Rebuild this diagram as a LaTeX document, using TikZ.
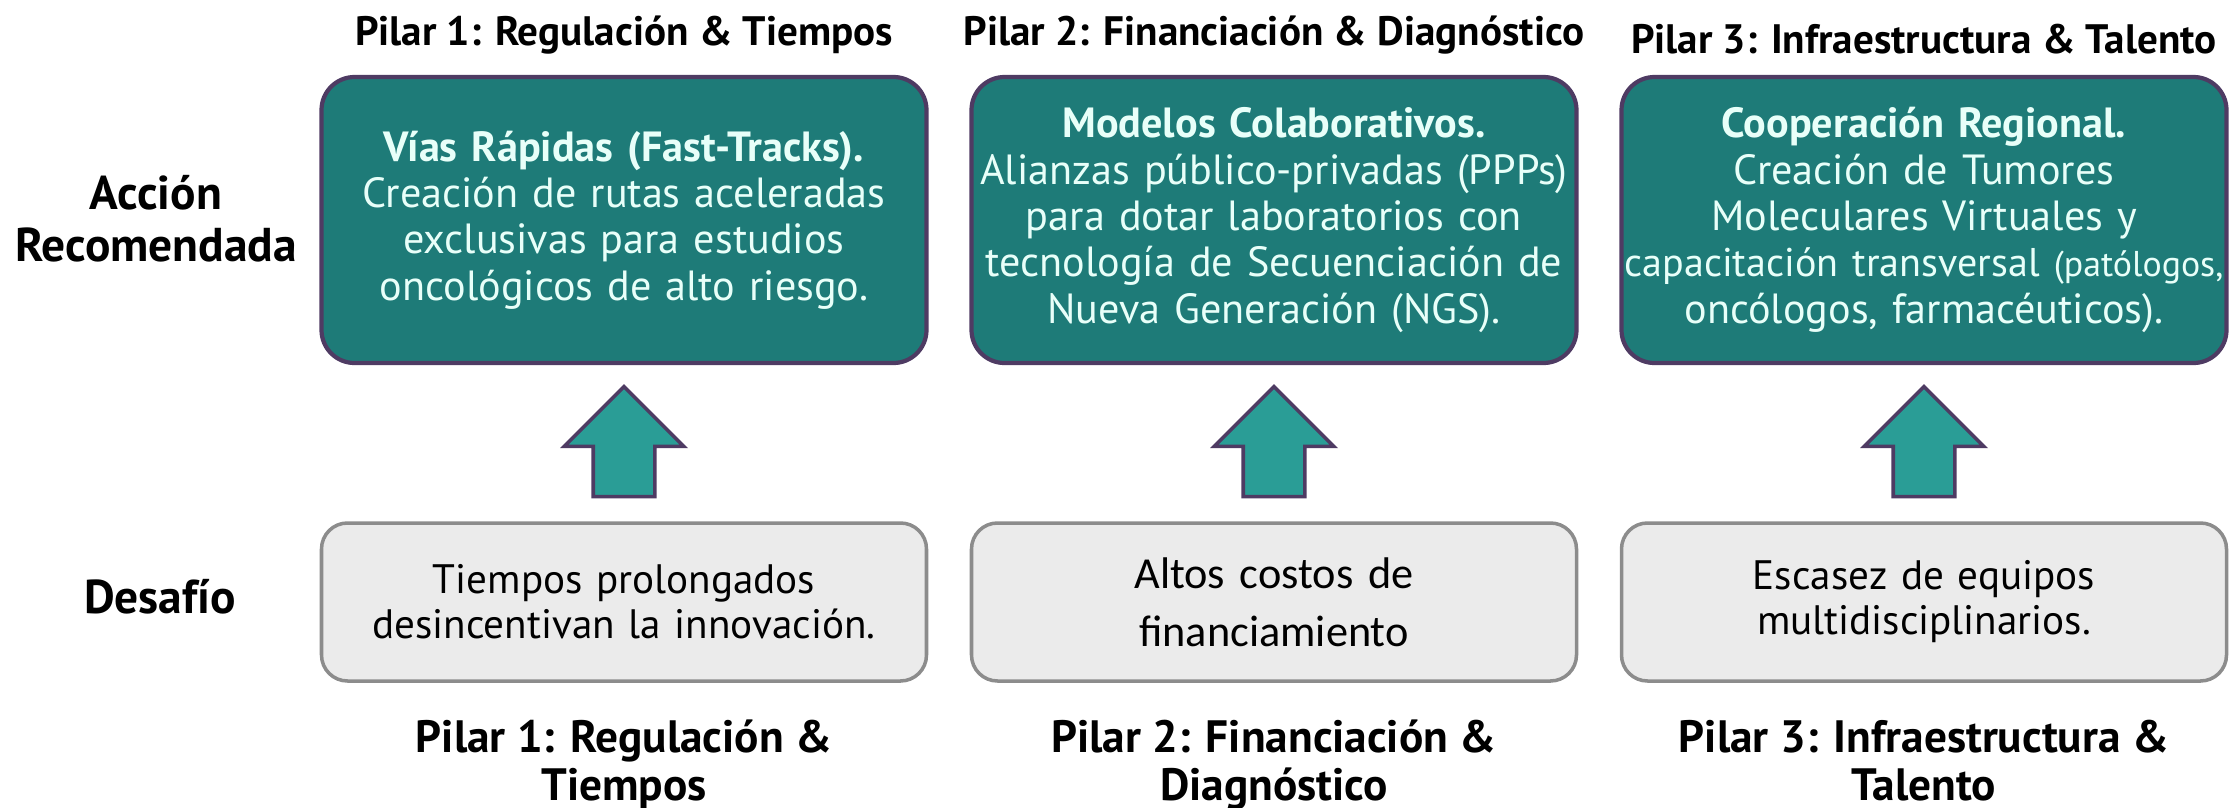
\documentclass[tikz,border=0pt]{standalone}
\usepackage{fontspec}
\setmainfont{PT Sans}
\newfontfamily\calibrifont{Carlito}
\usetikzlibrary{positioning,calc,shapes.arrows}

\definecolor{tealbox}{HTML}{1E7B78}
\definecolor{tealarrow}{HTML}{2A9D96}
\definecolor{purpleline}{HTML}{4E3B63}
\definecolor{mintwhite}{HTML}{E8FFF9}
\definecolor{grayfill}{HTML}{EBEBEB}
\definecolor{grayline}{HTML}{8C8C8C}

\tikzstyle{action} = [rectangle, rounded corners=0.33cm, minimum width=6.05cm, minimum height=2.86cm, text width=6.05cm, align=center, inner sep=0pt, draw=purpleline, line width=1.2pt, fill=tealbox, text=mintwhite, font=\fontsize{12}{13.2}\selectfont]
\tikzstyle{challenge} = [rectangle, rounded corners=0.26cm, minimum width=6.05cm, minimum height=1.58cm, text width=6.05cm, align=center, inner sep=0pt, draw=grayline, line width=1pt, fill=grayfill, font=\fontsize{11.7}{12.8}\selectfont]
\tikzstyle{uparrow} = [single arrow, rotate=90, anchor=tip, minimum height=1.1cm, minimum width=0pt, inner sep=0.29cm, single arrow head extend=0.29cm, draw=purpleline, line width=1pt, fill=tealarrow]
\tikzstyle{pillar} = [align=center, font=\bfseries\fontsize{11.7}{13}\selectfont]
\tikzstyle{pillarbig} = [align=center, font=\bfseries\fontsize{12.9}{13.6}\selectfont]
\tikzstyle{rowlabel} = [align=center, font=\bfseries\fontsize{13.5}{14.8}\selectfont]

\begin{document}
\begin{tikzpicture}[node distance=1cm]
\useasboundingbox (0,0) rectangle (22.33,-8.08);

% Recommended actions
\node (act1) [action] at (6.24,-2.2) {\textbf{Vías Rápidas (Fast-Tracks).}\\Creación de rutas aceleradas\\exclusivas para estudios\\oncológicos de alto riesgo.};
\node (act2) [action, right of=act1, xshift=5.5cm] {\textbf{Modelos Colaborativos.}\\Alianzas público-privadas (PPPs)\\para dotar laboratorios con\\tecnología de Secuenciación de\\Nueva Generación (NGS).};
\node (act3) [action, right of=act2, xshift=5.5cm] {\textbf{Cooperación Regional.}\\Creación de Tumores\\Moleculares Virtuales y\\{\fontsize{11.4}{13.2}\selectfont capacitación transversal {\fontsize{10.2}{13.2}\selectfont(patólogos,}}\\oncólogos, farmacéuticos).};

% Challenges
\node (des1) [challenge, below of=act1, yshift=-2.82cm] {Tiempos prolongados\\desincentivan la innovación.};
\node (des2) [challenge, below of=act2, yshift=-2.82cm, font=\calibrifont\fontsize{12.6}{16.5}\selectfont] {Altos costos de\\financiamiento};
\node (des3) [challenge, below of=act3, yshift=-2.82cm] {Escasez de equipos\\multidisciplinarios.};

% Pillar titles
\node (top1) [pillar, above=0.08cm of act1] {Pilar 1: Regulación \& Tiempos};
\node (top2) [pillar, above=0.08cm of act2] {Pilar 2: Financiación \& Diagnóstico};
\node (top3) [pillar, above=0.08cm of act3] {Pilar 3: Infraestructura \& Talento};
\node (bot1) [pillarbig, below=0.25cm of des1] {Pilar 1: Regulación \&\\Tiempos};
\node (bot2) [pillarbig, below=0.25cm of des2] {Pilar 2: Financiación \&\\Diagnóstico};
\node (bot3) [pillarbig, below=0.25cm of des3] {Pilar 3: Infraestructura \&\\Talento};

% Row labels
\node (rowact) [rowlabel] at (1.56,-2.19) {Acción\\Recomendada};
\node (rowdes) [rowlabel] at (1.6,-5.97) {Desafío};

% Arrows
\node (up1) [uparrow] at ($(act1.south)+(0,-0.19)$) {};
\node (up2) [uparrow] at ($(act2.south)+(0,-0.19)$) {};
\node (up3) [uparrow] at ($(act3.south)+(0,-0.19)$) {};

\end{tikzpicture}
\end{document}
